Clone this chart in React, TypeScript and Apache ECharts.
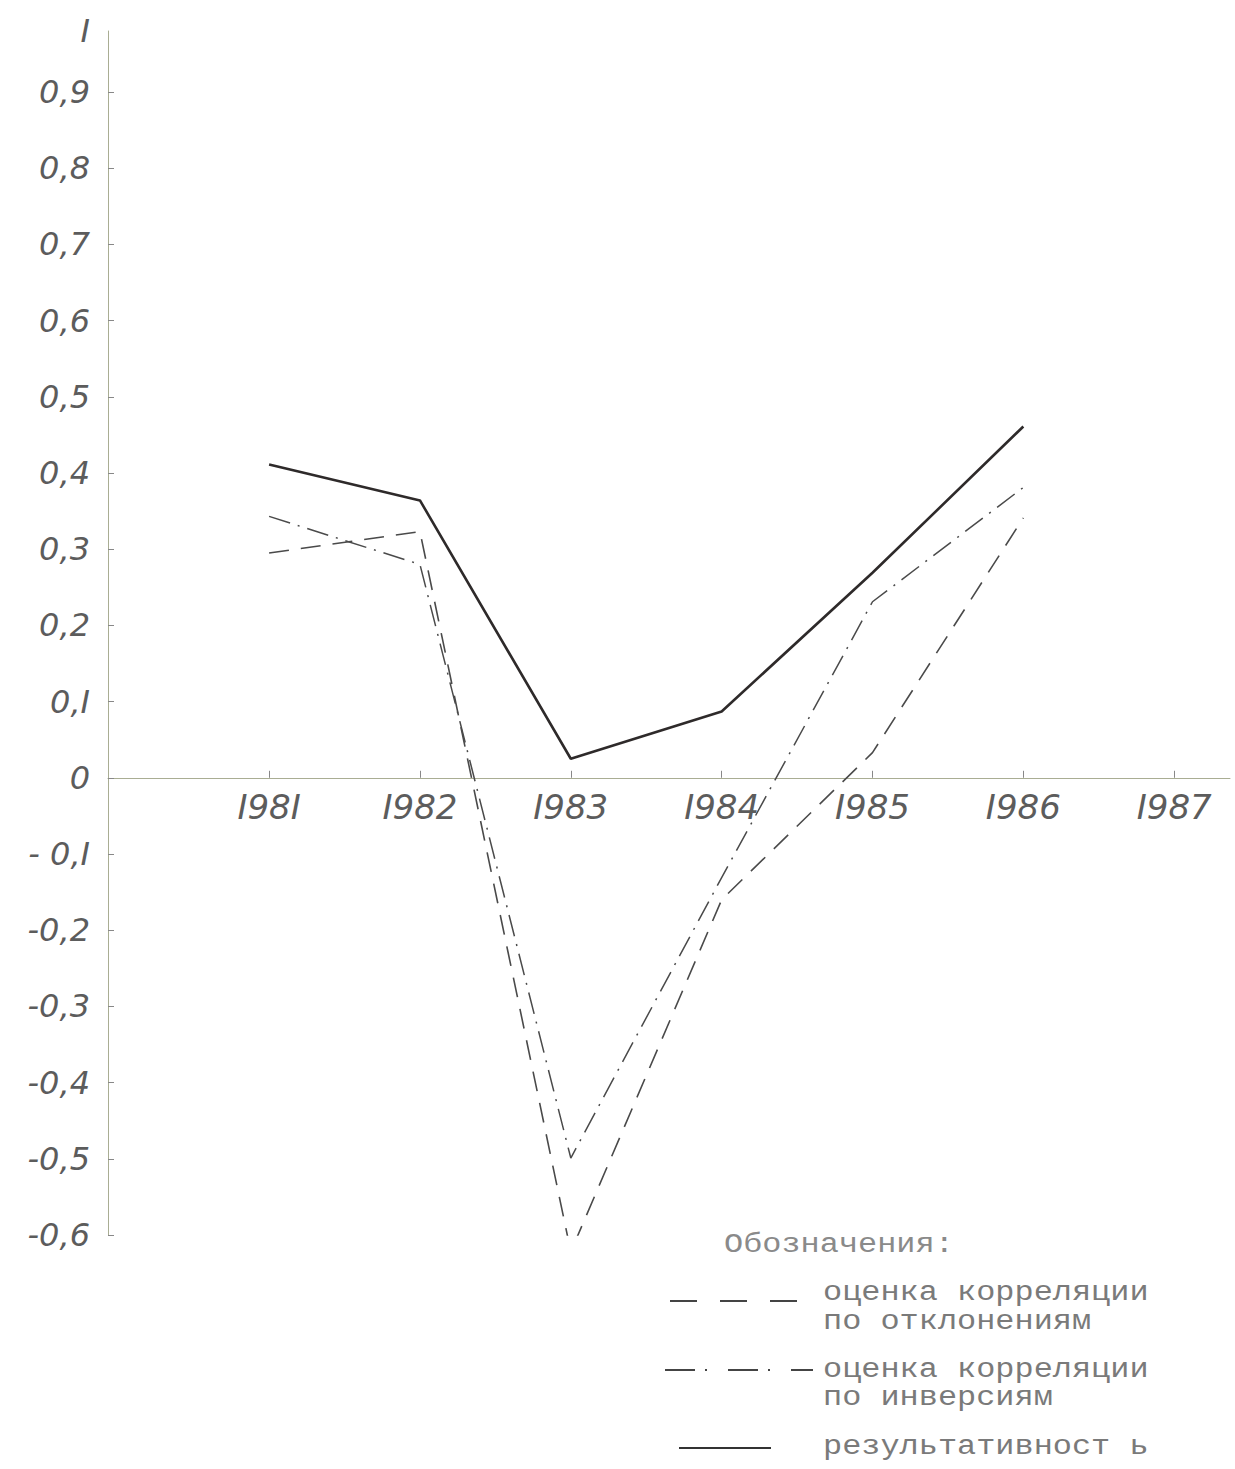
import React, { useEffect, useRef } from 'react';
import * as echarts from 'echarts';

const years = [1981, 1982, 1983, 1984, 1985, 1986];
const xTickValues = [1981, 1982, 1983, 1984, 1985, 1986, 1987];
const xTickLabels = ['I98I', 'I982', 'I983', 'I984', 'I985', 'I986', 'I987'];

const deviations = [0.295, 0.323, -0.622, -0.16, 0.033, 0.341];
const inversions = [0.343, 0.28, -0.499, -0.131, 0.231, 0.381];
const effectiveness = [0.411, 0.364, 0.025, 0.087, 0.269, 0.461];

const yTickValues = [-0.6, -0.5, -0.4, -0.3, -0.2, -0.1, 0, 0.1, 0.2, 0.3, 0.4, 0.5, 0.6, 0.7, 0.8, 0.9];
const yLabelValues = [...yTickValues, 0.98];
const yTickLabels = ['-0,6', '-0,5', '-0,4', '-0,3', '-0,2', '- 0,I', '0', '0,I', '0,2', '0,3', '0,4', '0,5', '0,6', '0,7', '0,8', '0,9', 'I'];

const legendTitle = 'Обозначения:';
const seriesNames = ['оценка корреляции по отклонениям', 'оценка корреляции по инверсиям', 'результативность'];
const legendLines = [
  ['оценка корреляции', 'по отклонениям'],
  ['оценка корреляции', 'по инверсиям'],
  ['результативност ь'],
];

const Y_MIN = -0.6;
const Y_MAX = 0.98;
const GRID_TOP = 31;
const GRID_BOTTOM_Y = 1235;

const pairs = (vals: number[]) => years.map((y, i) => [y, vals[i]]);

export default function App() {
  const ref = useRef<HTMLDivElement>(null);
  useEffect(() => {
    if (!ref.current) return;
    const chart = echarts.init(ref.current, null, { renderer: 'svg' });
    const axisColor = '#a9ad93';
    const labelFont = "'DejaVu Sans', sans-serif";
    const monoFont = "'Liberation Mono', 'DejaVu Sans Mono', monospace";
    const legendText = '#7a7a7a';
    const inkColor = '#5c5c5c';
    const plotH = GRID_BOTTOM_Y - GRID_TOP;
    const zeroY = GRID_TOP + (Y_MAX / (Y_MAX - Y_MIN)) * plotH;
    const legendFont = `28px ${monoFont}`;
    const textEl = (text: string, x: number, cy: number, fill: string) => ({
      type: 'text',
      x,
      y: cy,
      scaleX: 1.14,
      style: { text, font: legendFont, fill, verticalAlign: 'middle', align: 'left' },
    });
    chart.setOption({
      animation: false,
      backgroundColor: '#ffffff',
      grid: { left: 108, right: 5, top: GRID_TOP, bottom: 1469 - GRID_BOTTOM_Y, containLabel: false },
      xAxis: {
        type: 'value',
        min: 1979.932,
        max: 1987.37,
        offset: -(GRID_BOTTOM_Y - zeroY),
        axisLine: { onZero: false, lineStyle: { color: axisColor, width: 1 } },
        axisTick: { show: true, inside: true, length: 7, customValues: xTickValues, lineStyle: { color: '#888' } },
        axisLabel: {
          customValues: xTickValues,
          formatter: (v: number) => {
            const i = xTickValues.findIndex((t) => Math.abs(t - v) < 1e-6);
            return i >= 0 ? xTickLabels[i] : '';
          },
          color: inkColor,
          fontSize: 34,
          fontStyle: 'italic',
          fontFamily: labelFont,
          margin: 12,
        },
        splitLine: { show: false },
      },
      yAxis: {
        type: 'value',
        min: Y_MIN,
        max: Y_MAX,
        axisLine: { show: true, onZero: false, lineStyle: { color: axisColor, width: 1 } },
        axisTick: { show: true, inside: true, length: 6, customValues: yTickValues, lineStyle: { color: '#888' } },
        axisLabel: {
          customValues: yLabelValues,
          formatter: (v: number) => {
            const i = yLabelValues.findIndex((t) => Math.abs(t - v) < 1e-6);
            return i >= 0 ? yTickLabels[i] : '';
          },
          color: inkColor,
          fontSize: 32,
          fontStyle: 'italic',
          fontFamily: labelFont,
          margin: 18,
        },
        splitLine: { show: false },
      },
      series: [
        {
          name: seriesNames[0],
          type: 'line',
          data: pairs(deviations),
          symbol: 'none',
          lineStyle: { color: '#4a4a4a', width: 1.6, type: [20, 12] },
        },
        {
          name: seriesNames[1],
          type: 'line',
          data: pairs(inversions),
          symbol: 'none',
          lineStyle: { color: '#4a4a4a', width: 1.5, type: [22, 8, 2, 8] },
        },
        {
          name: seriesNames[2],
          type: 'line',
          data: pairs(effectiveness),
          symbol: 'none',
          lineStyle: { color: '#2e2a2a', width: 2.6 },
        },
      ],
      graphic: [
        textEl(legendTitle, 724, 1245, '#8a8a8a'),
        {
          type: 'line',
          shape: { x1: 670, y1: 1301, x2: 798, y2: 1301 },
          style: { stroke: '#444', lineWidth: 1.8, lineDash: [27, 23] },
        },
        textEl(legendLines[0][0], 823, 1293, legendText),
        textEl(legendLines[0][1], 823, 1322, legendText),
        {
          type: 'line',
          shape: { x1: 665, y1: 1370, x2: 813, y2: 1370 },
          style: { stroke: '#444', lineWidth: 1.8, lineDash: [30, 10, 2, 21] },
        },
        textEl(legendLines[1][0], 823, 1370, legendText),
        textEl(legendLines[1][1], 823, 1398, legendText),
        {
          type: 'line',
          shape: { x1: 679, y1: 1448, x2: 771, y2: 1448 },
          style: { stroke: '#333', lineWidth: 2 },
        },
        textEl(legendLines[2][0], 823, 1447, legendText),
      ],
    });
    return () => chart.dispose();
  }, []);
  return (
    <div
      ref={ref}
      style={{ position: 'absolute', left: 0, top: 0, width: 1235, height: 1469 }}
    />
  );
}
